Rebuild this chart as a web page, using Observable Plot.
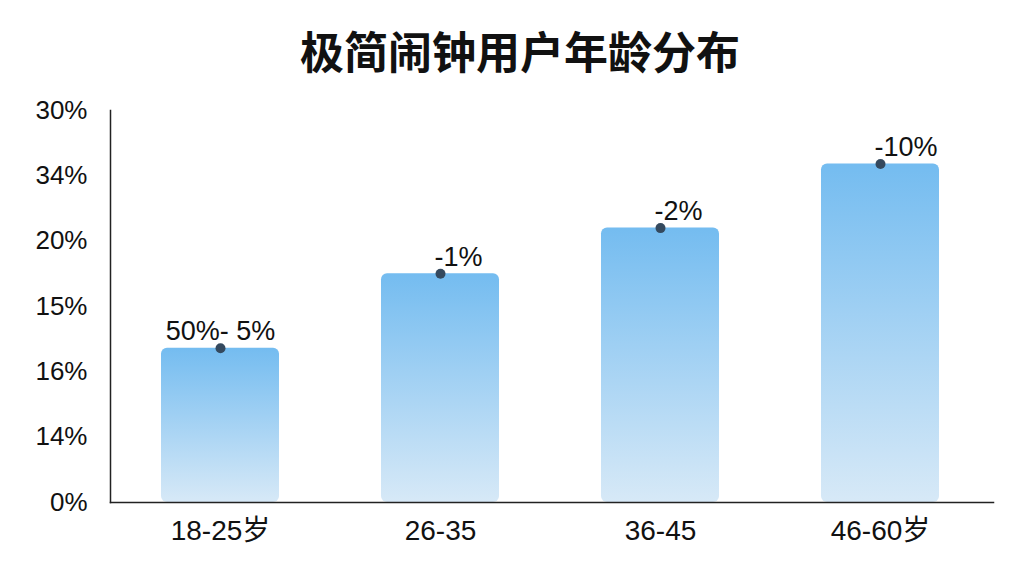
<!DOCTYPE html>
<html>
<head>
<meta charset="utf-8">
<script src="https://cdn.jsdelivr.net/npm/d3@7"></script>
<script src="https://cdn.jsdelivr.net/npm/@observablehq/plot@0.6"></script>
<style>
  html, body { margin: 0; padding: 0; background: #fff; }
  body { width: 1024px; height: 576px; overflow: hidden; font-family: "Noto Sans CJK SC", "Noto Sans", sans-serif; }
  #title { height: 90px; box-sizing: border-box; padding-top: 27px; padding-left: 16px; margin: 0; text-align: center;
           font-size: 44px; line-height: 46px; font-weight: 700; color: #111; }
</style>
</head>
<body>
<div id="title">极简闹钟用户年龄分布</div>
<div id="chart"></div>
<script>
const categories = ["18-25岁", "26-35", "36-45", "46-60岁"];
const shares = [11.8, 17.5, 21.0, 25.9];
const pointLabels = ["50%- 5%", "-1%", "-2%", "-10%"];
const yTickValues = [0, 5, 10, 15, 20, 25, 30];
const yTickLabels = ["0%", "14%", "16%", "15%", "20%", "34%", "30%"];

const data = categories.map((c, i) => ({ category: c, value: shares[i], label: pointLabels[i] }));
const tickLabelOf = new Map(yTickValues.map((v, i) => [v, yTickLabels[i]]));

const chart = Plot.plot({
  width: 1024,
  height: 486,
  marginTop: 20,
  marginBottom: 74,
  marginLeft: 110,
  marginRight: 31,
  style: { fontFamily: "'Liberation Sans', Arial, 'Noto Sans CJK SC', sans-serif", fontSize: "26px", color: "#111", background: "transparent" },
  x: { domain: categories, range: [108.5, 991.5], paddingInner: 0.465, paddingOuter: 0.2325, label: null },
  y: { domain: [0, 30], label: null },
  marks: [
    Plot.barY(data, { x: "category", y: "value", fill: "url(#barGrad)", rx: 6 }),
    Plot.frame({ anchor: "left", stroke: "#222", strokeWidth: 1.5 }),
    Plot.frame({ anchor: "bottom", stroke: "#222", strokeWidth: 1.5 }),
    Plot.axisY({ ticks: yTickValues, tickFormat: d => tickLabelOf.get(d), tickSize: 0, tickPadding: 23, fontSize: 26, fill: "#111" }),
    Plot.axisX({ tickSize: 0, tickPadding: 18, fontSize: 28, fill: "#111" }),
    Plot.dot(data, { x: "category", y: "value", r: 5, fill: "#34495e", stroke: "none" }),
    Plot.text(data.slice(0, 1), { x: "category", y: "value", text: "label", textAnchor: "middle", lineAnchor: "bottom", dy: -8, fontSize: 27, fill: "#111" }),
    Plot.text(data.slice(1), { x: "category", y: "value", text: "label", textAnchor: "start", lineAnchor: "bottom", dx: -6, dy: -8, fontSize: 27, fill: "#111" })
  ]
});

const svg = d3.select(chart);
const grad = svg.insert("defs", ":first-child").append("linearGradient")
  .attr("id", "barGrad").attr("x1", 0).attr("y1", 0).attr("x2", 0).attr("y2", 1);
grad.append("stop").attr("offset", "0%").attr("stop-color", "#74bcf0");
grad.append("stop").attr("offset", "100%").attr("stop-color", "#d7e9f7");

document.getElementById("chart").appendChild(chart);
</script>
</body>
</html>
